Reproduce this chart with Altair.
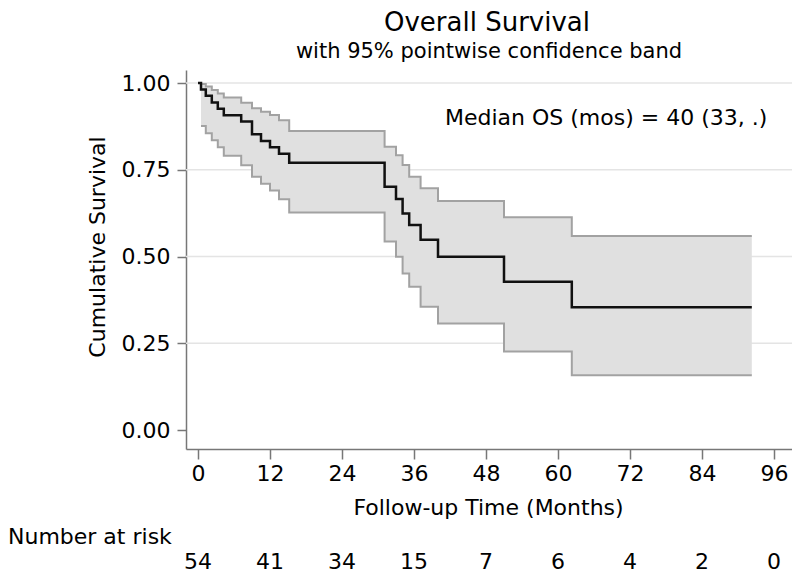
import altair as alt
import pandas as pd

# ---- data ----
time_pts = [0, 0.5, 1.3, 2.3, 3.3, 4.3, 7.2, 9.0, 10.5, 12.0, 13.5, 15.2,
            31.1, 33.0, 34.1, 35.2, 37.1, 40.0, 51.0, 62.3, 92.3]
survival = [1.0, 0.981, 0.963, 0.944, 0.926, 0.907, 0.889, 0.852, 0.833, 0.815, 0.796, 0.770,
            0.701, 0.666, 0.624, 0.591, 0.548, 0.499, 0.427, 0.354, 0.354]
ci_upper = [None, 0.997, 0.990, 0.980, 0.970, 0.958, 0.943, 0.927, 0.917, 0.908, 0.893, 0.862,
            0.816, 0.792, 0.764, 0.730, 0.697, 0.660, 0.613, 0.559, 0.559]
ci_lower = [None, 0.876, 0.855, 0.835, 0.815, 0.790, 0.763, 0.730, 0.710, 0.690, 0.665, 0.627,
            0.543, 0.499, 0.451, 0.413, 0.355, 0.307, 0.226, 0.158, 0.158]

risk_times = [0, 12, 24, 36, 48, 60, 72, 84, 96]
risk_counts = [54, 41, 34, 15, 7, 6, 4, 2, 0]
x_ticks = [0, 12, 24, 36, 48, 60, 72, 84, 96]
y_ticks = [0.0, 0.25, 0.5, 0.75, 1.0]
grid_vals = [0.25, 0.5, 0.75, 1.0]

title_text = "Overall Survival"
subtitle_text = "with 95% pointwise confidence band"
annot_text = "Median OS (mos) = 40 (33, .)"
risk_label = "Number at risk"

# ---- layout ----
F = "DejaVu Sans"
W, H = 606, 379
PX_PER_MONTH = 6.0
X0 = -12 / PX_PER_MONTH
X1 = X0 + W / PX_PER_MONTH
Y0 = -19 / 347
Y1 = 1 + 13 / 347

df = pd.DataFrame({"t": time_pts, "s": survival, "u": ci_upper, "l": ci_lower})
band_df = df.dropna().reset_index(drop=True)
grid_df = pd.DataFrame({"g": grid_vals})
risk_df = pd.DataFrame({"rt": risk_times, "rn": risk_counts})
one = pd.DataFrame({"a": [0]})

xs = alt.Scale(domain=[X0, X1], nice=False, zero=False)
ys = alt.Scale(domain=[Y0, Y1], nice=False, zero=False)

AX = "#777777"
xaxis = alt.Axis(values=x_ticks, title="Follow-up Time (Months)", grid=False,
                 tickSize=10, tickWidth=1.5, tickColor=AX, domainColor=AX, domainWidth=1.5,
                 labelPadding=4, labelFont=F, labelFontSize=22, labelColor="#000000",
                 labelFlush=False,
                 titleFont=F, titleFontSize=22, titleFontWeight="normal", titleColor="#000000",
                 titleX=302, titleY=58, titleBaseline="middle", titleAlign="center")
yaxis = alt.Axis(values=y_ticks, format=".2f", title="Cumulative Survival", grid=False,
                 tickSize=9, tickWidth=1.5, tickColor=AX, domainColor=AX, domainWidth=1.5,
                 labelPadding=7, labelFont=F, labelFontSize=22, labelColor="#000000",
                 labelFlush=False,
                 titleFont=F, titleFontSize=22, titleFontWeight="normal", titleColor="#000000",
                 titleX=-89, titleY=H / 2 - 13, titleAngle=270, titleBaseline="middle",
                 titleAlign="center")

X = alt.X("t:Q", scale=xs, axis=xaxis)

grid = alt.Chart(grid_df).mark_rule(color="#e4e4e4", strokeWidth=1.5).encode(
    y=alt.Y("g:Q", scale=ys, axis=yaxis), x=alt.value(0), x2=alt.value(W))

band = alt.Chart(band_df).mark_area(interpolate="step-after", color="#e0e0e0", opacity=1).encode(
    x=X, y=alt.Y("l:Q", scale=ys, axis=yaxis), y2="u:Q")

up_line = alt.Chart(band_df).mark_line(interpolate="step-after", color="#a2a2a2", strokeWidth=2).encode(
    x=X, y=alt.Y("u:Q", scale=ys, axis=yaxis))
low_line = alt.Chart(band_df).mark_line(interpolate="step-after", color="#a2a2a2", strokeWidth=2).encode(
    x=X, y=alt.Y("l:Q", scale=ys, axis=yaxis))
surv_line = alt.Chart(df).mark_line(interpolate="step-after", color="#111111", strokeWidth=2.5).encode(
    x=X, y=alt.Y("s:Q", scale=ys, axis=yaxis))

annot = alt.Chart(one).mark_text(text=annot_text, font=F, fontSize=22, align="left",
                                 baseline="middle", color="#000000").encode(
    x=alt.value(259), y=alt.value(48))
title = alt.Chart(one).mark_text(text=title_text, font=F, fontSize=26, align="center",
                                 baseline="middle", color="#000000").encode(
    x=alt.value(301), y=alt.value(-47))
subtitle = alt.Chart(one).mark_text(text=subtitle_text, font=F, fontSize=21, align="center",
                                    baseline="middle", color="#000000").encode(
    x=alt.value(303), y=alt.value(-18))
risk_lab = alt.Chart(one).mark_text(text=risk_label, font=F, fontSize=22, align="left",
                                    baseline="middle", color="#000000").encode(
    x=alt.value(-178), y=alt.value(467))
risk_nums = alt.Chart(risk_df).mark_text(font=F, fontSize=22, align="center",
                                         baseline="middle", color="#000000").encode(
    x=alt.X("rt:Q", scale=xs, axis=xaxis), y=alt.value(492), text="rn:Q")

chart = alt.layer(grid, band, up_line, low_line, surv_line, annot, title, subtitle,
                  risk_lab, risk_nums).properties(
    width=W, height=H,
    padding={"left": 178, "top": 62, "right": 0, "bottom": 124},
    autosize=alt.AutoSizeParams(type="none"),
    background="#ffffff",
).configure_view(stroke=None)

chart.save("out.html", embed_options={"renderer": "svg", "actions": False})
